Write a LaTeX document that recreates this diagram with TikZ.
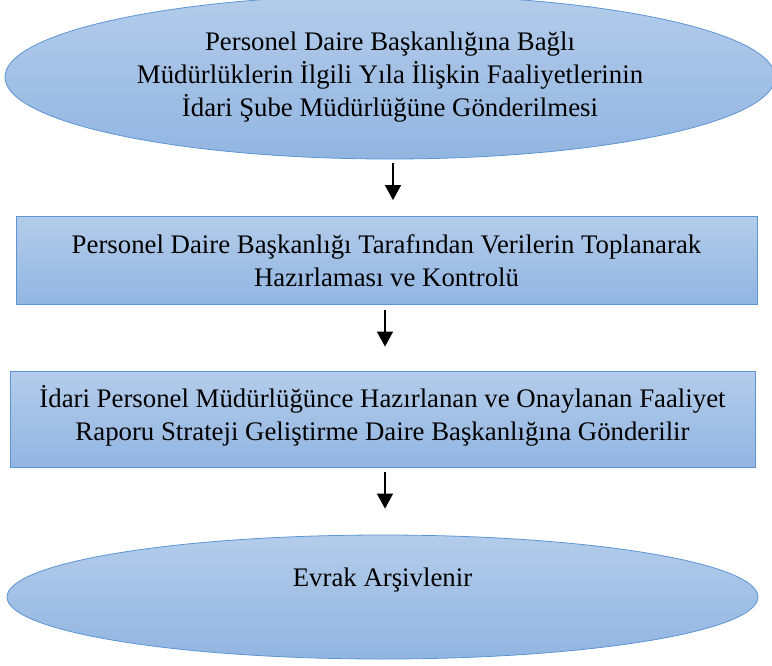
\documentclass[tikz,border=0pt]{standalone}
\usepackage{fontspec}
\setmainfont{Liberation Serif}
\usetikzlibrary{shapes.geometric,arrows.meta}
\definecolor{topblue}{HTML}{B3CCEA}
\definecolor{botblue}{HTML}{92B5E1}
\definecolor{edgeblue}{HTML}{5D95D3}
\tikzset{
  box/.style={draw=edgeblue, line width=0.8pt, top color=topblue, bottom color=botblue, inner sep=0pt},
  ell/.style={box, ellipse},
  rect/.style={box, rectangle},
  txt/.style={align=center, font=\fontsize{26.8}{33}\selectfont, text=black},
  flow/.style={-{Triangle[length=15pt,width=16pt]}, line width=1.2pt, black}
}
\begin{document}
\begin{tikzpicture}[x=1pt,y=-1pt]
\useasboundingbox (0,0) rectangle (772,665);
\begin{scope}
\clip (0,0) rectangle (772,665);
\node[ell, minimum width=770pt, minimum height=164pt] (e1) at (390,77) {};
\node[rect, minimum width=741pt, minimum height=88pt] (r2) at (386.5,260.5) {};
\node[rect, minimum width=745pt, minimum height=96pt] (r3) at (382.5,419) {};
\node[ell, minimum width=751pt, minimum height=124pt] (e4) at (382.5,597) {};
\end{scope}
\node[txt] (t1) at (e1.center) {Personel Daire Başkanlığına Bağlı\\Müdürlüklerin İlgili Yıla İlişkin Faaliyetlerinin\\İdari Şube Müdürlüğüne Gönderilmesi};
\node[txt] (t2) at (r2.center) {Personel Daire Başkanlığı Tarafından Verilerin Toplanarak\\Hazırlaması ve Kontrolü};
\node[txt] (t3) at ([yshift=3pt]r3.center) {İdari Personel Müdürlüğünce Hazırlanan ve Onaylanan Faaliyet\\Raporu Strateji Geliştirme Daire Başkanlığına Gönderilir};
\node[txt] (t4) at ([yshift=17pt]e4.center) {Evrak Arşivlenir};
\draw[flow, shorten <=4pt, shorten >=16pt] ([xshift=3pt]e1.south) -- ([xshift=3pt]e1.south |- r2.north);
\draw[flow, shorten <=5pt, shorten >=24pt] ([xshift=-1.5pt]r2.south) -- ([xshift=-1.5pt]r2.south |- r3.north);
\draw[flow, shorten <=5pt, shorten >=26pt] ([xshift=2.5pt]r3.south) -- ([xshift=2.5pt]r3.south |- e4.north);
\end{tikzpicture}
\end{document}
